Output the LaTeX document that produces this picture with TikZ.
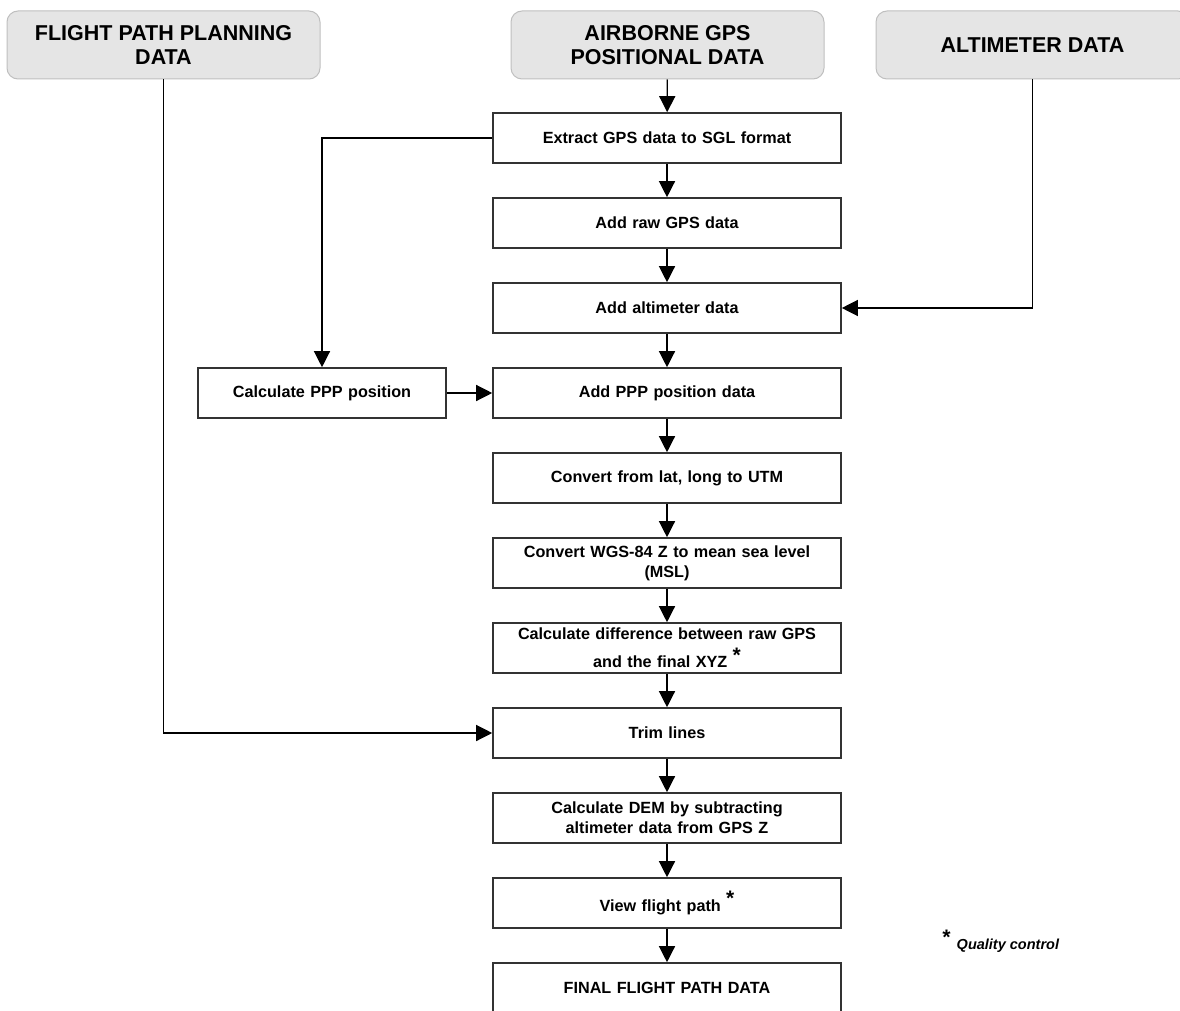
\documentclass[tikz,border=0pt]{standalone}
\usepackage{fontspec}
\setmainfont{Liberation Sans}
\usetikzlibrary{arrows.meta}

\newcommand{\qcmark}{\raisebox{0.35em}{\fontsize{21}{21}\selectfont *}}

\tikzset{
	srcbox/.style = {draw = black!25, fill = black!10, line width = 1pt, rounded corners = 11pt,
		minimum width = 313pt, minimum height = 68pt, inner sep = 0pt, align = center,
		font = \fontsize{21.5}{24}\selectfont\bfseries},
	procbox/.style = {draw = black!80, line width = 1.6pt, fill = white,
		minimum width = 348pt, minimum height = 50pt, inner sep = 0pt, text width = 340pt,
		align = center, font = \fontsize{16.2}{20}\selectfont\bfseries},
	flow/.style = {line width = 1.3pt, -{Triangle[width = 16pt, length = 16pt]}}
}

\begin{document}
\begin{tikzpicture}[x = 1pt, y = -1pt]
	\useasboundingbox (0, 0) rectangle (1180, 1011);
	
	% input data
	\node[srcbox] (planning) at (163.5, 45) {FLIGHT PATH PLANNING\\DATA};
	\node[srcbox] (gps) at (667.5, 45) {AIRBORNE GPS\\POSITIONAL DATA};
	\node[srcbox] (altimeter) at (1032.5, 45) {ALTIMETER DATA};
	
	% processing steps
	\node[procbox] (extract) at (667, 138) {Extract GPS data to SGL format};
	\node[procbox] (rawgps) at (667, 223) {Add raw GPS data};
	\node[procbox] (altim) at (667, 308) {Add altimeter data};
	\node[procbox] (ppp) at (667, 393) {Add PPP position data};
	\node[procbox, minimum width = 248pt, text width = 240pt] (calcppp) at (322, 393) {Calculate PPP position};
	\node[procbox] (latlong) at (667, 478) {Convert from lat, long to UTM};
	\node[procbox] (msl) at (667, 563) {Convert WGS-84 Z to mean sea level\\(MSL)};
	\node[procbox] (diff) at (667, 648) {Calculate difference between raw GPS\\[7pt]and the final XYZ \qcmark};
	\node[procbox] (trim) at (667, 733) {Trim lines};
	\node[procbox] (dem) at (667, 818) {Calculate DEM by subtracting\\altimeter data from GPS Z};
	\node[procbox] (view) at (667, 903) {View flight path \qcmark};
	\node[procbox] (final) at (667, 988) {FINAL FLIGHT PATH DATA};
	
	\node[anchor = west, font = \fontsize{14.5}{17}\selectfont\bfseries\itshape] (note) at (938, 941) {\qcmark\hspace{7pt}Quality control};
	
	% connectors
	\draw[flow] (gps) -- (extract);
	\foreach \a/\b in {extract/rawgps, rawgps/altim, altim/ppp, ppp/latlong, latlong/msl, msl/diff, diff/trim, trim/dem, dem/view, view/final}
		\draw[flow] (\a) -- (\b);
	
	\draw[flow] (extract.west) -| (calcppp.north);
	\draw[flow] (calcppp) -- (ppp);
	\draw[flow] (altimeter.south) |- (altim.east);
	\draw[flow] (planning.south) |- (trim.west);
\end{tikzpicture}
\end{document}
